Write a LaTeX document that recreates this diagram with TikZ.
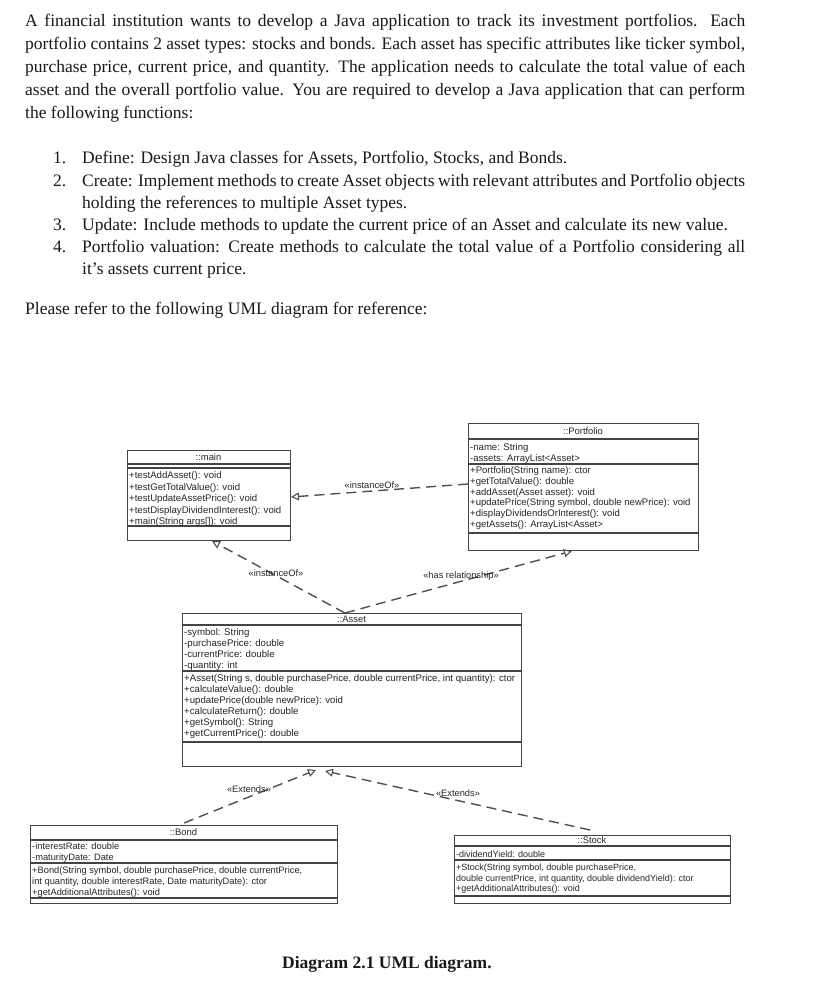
\documentclass[tikz,border=0pt]{standalone}
\usepackage{fontspec}
\setmainfont{Liberation Serif}
\newfontfamily\umlfont{Liberation Sans}
\usetikzlibrary{arrows.meta}
\definecolor{boxgray}{HTML}{444444}
\definecolor{linegray}{HTML}{505050}
\definecolor{umltext}{HTML}{262626}
\definecolor{bodytext}{HTML}{1A1A1A}
\begin{document}
\begin{tikzpicture}[x=1pt,y=-1pt,
  body/.style={anchor=base west, inner sep=0pt, text=bodytext, font=\fontsize{17.5}{23}\selectfont},
  classbox/.style={draw=boxgray, line width=1.3pt, inner sep=0pt, anchor=north west},
  sep/.style={draw=boxgray, line width=1.3pt},
  member/.style={anchor=base west, inner sep=0pt, align=left, text=umltext},
  ctitle/.style={inner sep=0pt, text=umltext, font=\umlfont\fontsize{9.4}{11}\selectfont},
  rel/.style={draw=linegray, line width=1.4pt, dash pattern=on 10pt off 6pt, -{Triangle[open, length=8pt, width=8pt, line width=1.1pt]}},
  rellabel/.style={inner sep=0pt, text=umltext, font=\umlfont\fontsize{9.3}{11}\selectfont},
]
\fill[white] (0,0) rectangle (828,989);
\useasboundingbox (0,0) rectangle (828,989);

% ---------- text ----------
\node[body] (p1) at (25,26) {\makebox[720pt][s]{A financial institution wants to develop a Java application to track its investment portfolios. Each}};
\node[body] (p2) at (25,49) {\makebox[720pt][s]{portfolio contains 2 asset types: stocks and bonds. Each asset has specific attributes like ticker symbol,}};
\node[body] (p3) at (25,72) {\makebox[720pt][s]{purchase price, current price, and quantity. The application needs to calculate the total value of each}};
\node[body] (p4) at (25,95) {\makebox[720pt][s]{asset and the overall portfolio value. You are required to develop a Java application that can perform}};
\node[body] (p5) at (25,118) {the following functions:};

\node[body] (n1) at (53,163) {1.};
\node[body] (i1) at (82,163) {Define: Design Java classes for Assets, Portfolio, Stocks, and Bonds.};
\node[body] (n2) at (53,186) {2.};
\node[body] (i2) at (82,186) {\makebox[663pt][s]{Create: Implement methods to create Asset objects with relevant attributes and Portfolio objects}};
\node[body] (i2b) at (82,208) {holding the references to multiple Asset types.};
\node[body] (n3) at (53,230) {3.};
\node[body] (i3) at (82,230) {Update: Include methods to update the current price of an Asset and calculate its new value.};
\node[body] (n4) at (53,252) {4.};
\node[body] (i4) at (82,252) {\makebox[663pt][s]{Portfolio valuation: Create methods to calculate the total value of a Portfolio considering all}};
\node[body] (i4b) at (82,274) {it’s assets current price.};

\node[body] (pl) at (25,314) {Please refer to the following UML diagram for reference:};

\node[body, font=\fontsize{17.5}{23}\selectfont\bfseries] (cap) at (282,968) {Diagram 2.1 UML diagram.};

% ---------- main ----------
\node[classbox, minimum width=163pt, minimum height=90pt] (main) at (127,450) {};
\draw[sep] (127,464) -- (290,464);
\draw[sep] (127,468) -- (290,468);
\draw[sep] (127,526) -- (290,526);
\node[ctitle] (mainT) at (208.5,457) {::main};
\node[member, font=\umlfont\fontsize{9.6}{11.5}\selectfont] (mainOps) at (129,524.5)
  {+testAddAsset(): void\\+testGetTotalValue(): void\\+testUpdateAssetPrice(): void\\+testDisplayDividendInterest(): void\\+main(String args[]): void};

% ---------- Portfolio ----------
\node[classbox, minimum width=230pt, minimum height=127pt] (pf) at (468,423) {};
\draw[sep] (468,439) -- (698,439);
\draw[sep] (468,464) -- (698,464);
\draw[sep] (468,533) -- (698,533);
\node[ctitle] (pfT) at (583,431) {::Portfolio};
\node[member, font=\umlfont\fontsize{9.55}{10.6}\selectfont] (pfAttr) at (470,461.1)
  {-name: String\\-assets: ArrayList<Asset>};
\node[member, font=\umlfont\fontsize{9.55}{10.8}\selectfont] (pfOps) at (470,527.5)
  {+Portfolio(String name): ctor\\+getTotalValue(): double\\+addAsset(Asset asset): void\\+updatePrice(String symbol, double newPrice): void\\+displayDividendsOrInterest(): void\\+getAssets(): ArrayList<Asset>};

% ---------- Asset ----------
\node[classbox, minimum width=339pt, minimum height=153pt] (asset) at (182,613) {};
\draw[sep] (182,625) -- (521,625);
\draw[sep] (182,671) -- (521,671);
\draw[sep] (182,742) -- (521,742);
\node[ctitle] (assetT) at (351.5,619) {::Asset};
\node[member, font=\umlfont\fontsize{9.65}{11}\selectfont] (assetAttr) at (184,668)
  {-symbol: String\\-purchasePrice: double\\-currentPrice: double\\-quantity: int};
\node[member, font=\umlfont\fontsize{9.65}{11}\selectfont] (assetOps) at (184,736.5)
  {+Asset(String s, double purchasePrice, double currentPrice, int quantity): ctor\\+calculateValue(): double\\+updatePrice(double newPrice): void\\+calculateReturn(): double\\+getSymbol(): String\\+getCurrentPrice(): double};

% ---------- Bond ----------
\node[classbox, minimum width=307pt, minimum height=78pt] (bond) at (30,825) {};
\draw[sep] (30,840) -- (337,840);
\draw[sep] (30,863) -- (337,863);
\draw[sep] (30,898) -- (337,898);
\node[ctitle] (bondT) at (183.5,832.5) {::Bond};
\node[member, font=\umlfont\fontsize{9.3}{11}\selectfont] (bondAttr) at (32,860.5)
  {-interestRate: double\\-maturityDate: Date};
\node[member, font=\umlfont\fontsize{9.3}{11}\selectfont] (bondOps) at (32,895)
  {+Bond(String symbol, double purchasePrice, double currentPrice,\\int quantity, double interestRate, Date maturityDate): ctor\\+getAdditionalAttributes(): void};

% ---------- Stock ----------
\node[classbox, minimum width=276pt, minimum height=68pt] (stock) at (454,835) {};
\draw[sep] (454,846) -- (730,846);
\draw[sep] (454,860) -- (730,860);
\draw[sep] (454,896) -- (730,896);
\node[ctitle] (stockT) at (592,840.5) {::Stock};
\node[member, font=\umlfont\fontsize{9}{11}\selectfont] (stockAttr) at (456,857)
  {-dividendYield: double};
\node[member, font=\umlfont\fontsize{9}{10.5}\selectfont] (stockOps) at (456,891.5)
  {+Stock(String symbol, double purchasePrice,\\double currentPrice, int quantity, double dividendYield): ctor\\+getAdditionalAttributes(): void};

% ---------- connectors ----------
\coordinate (pfL) at (468,484);
\coordinate (mainR) at (291,497);
\coordinate (assetTop) at (345,613);
\coordinate (mainB) at (212,541);
\coordinate (pfB) at (572,551);
\coordinate (bondTop) at (184,823);
\coordinate (assetB1) at (316,770);
\coordinate (stockTop) at (590,830);
\coordinate (assetB2) at (325,771);

\draw[rel] (pfL) -- (mainR);
\draw[rel] (assetTop) -- (mainB);
\draw[rel] (assetTop) -- (pfB);
\draw[rel] (bondTop) -- (assetB1);
\draw[rel] (stockTop) -- (assetB2);

\node[rellabel] (l1) at (372,485) {«instanceOf»};
\node[rellabel] (l2) at (276,573) {«instanceOf»};
\node[rellabel] (l3) at (461,576) {«has relationship»};
\node[rellabel] (l4) at (249,789) {«Extends»};
\node[rellabel] (l5) at (458,793) {«Extends»};
\end{tikzpicture}
\end{document}
